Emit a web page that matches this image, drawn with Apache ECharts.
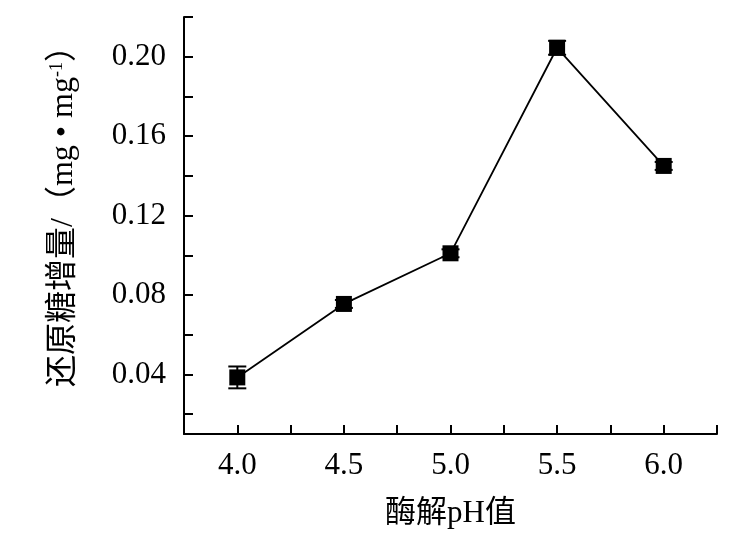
<!DOCTYPE html>
<html><head><meta charset="utf-8">
<script src="https://cdn.jsdelivr.net/npm/echarts@6/dist/echarts.min.js"></script>
<style>html,body{margin:0;padding:0;background:#fff}#c{width:738px;height:558px}</style>
</head><body><div id="c"></div>
<script>
const phValues = [4.0, 4.5, 5.0, 5.5, 6.0];
const sugarIncrease = [0.0385, 0.0755, 0.101, 0.2045, 0.145];
const sugarError = [0.0055, 0.002, 0.002, 0.0035, 0.002];
const xTickValues = [3.75, 4.0, 4.25, 4.5, 4.75, 5.0, 5.25, 5.5, 5.75, 6.0, 6.25];
const xLabelValues = [4.0, 4.5, 5.0, 5.5, 6.0];
const yTickValues = [0.02, 0.04, 0.06, 0.08, 0.10, 0.12, 0.14, 0.16, 0.18, 0.20, 0.22];
const yLabelValues = [0.04, 0.08, 0.12, 0.16, 0.20];

const font = '"Liberation Serif","Noto Sans CJK SC",serif';
const chart = echarts.init(document.getElementById('c'));
const pts = phValues.map((x, i) => [x, sugarIncrease[i]]);
const errData = phValues.map((x, i) => [x, sugarIncrease[i] - sugarError[i], sugarIncrease[i] + sugarError[i]]);

chart.setOption({
  animation: false,
  backgroundColor: '#fff',
  grid: {left: 184, top: 17, right: 21, bottom: 124, containLabel: false},
  xAxis: {
    type: 'value', min: 3.75, max: 6.25,
    name: '酶解pH值', nameLocation: 'middle', nameGap: 64,
    nameTextStyle: {fontFamily: font, fontSize: 31, color: '#000'},
    axisLine: {lineStyle: {color: '#000', width: 2}},
    axisTick: {inside: true, length: 9, lineStyle: {color: '#000', width: 2}, customValues: xTickValues},
    axisLabel: {fontFamily: font, fontSize: 31, color: '#000', margin: 16, customValues: xLabelValues,
      formatter: v => v.toFixed(1)},
    splitLine: {show: false}
  },
  yAxis: {
    type: 'value', min: 0.01, max: 0.22,
    name: '还原糖增量/（mg • mg{sup|-1}）', nameLocation: 'middle', nameGap: 104, nameRotate: 90,
    nameTextStyle: {fontFamily: font, fontSize: 32, color: '#000', padding: [0, 0, 0, 34],
      rich: {sup: {fontFamily: font, fontSize: 18, color: '#000', verticalAlign: 'top', padding: [0,0,14,0]}}},
    axisLine: {show: true, lineStyle: {color: '#000', width: 2}},
    axisTick: {show: true, inside: true, length: 9, lineStyle: {color: '#000', width: 2}, customValues: yTickValues},
    axisLabel: {fontFamily: font, fontSize: 31, color: '#000', margin: 18, customValues: yLabelValues,
      formatter: v => v.toFixed(2)},
    splitLine: {show: false}
  },
  series: [
    {
      type: 'custom', data: errData, z: 3,
      renderItem: function (params, api) {
        const x = api.value(0);
        const lo = api.coord([x, api.value(1)]);
        const hi = api.coord([x, api.value(2)]);
        const hw = 9;
        const style = {stroke: '#000', lineWidth: 2};
        return {type: 'group', children: [
          {type: 'line', shape: {x1: lo[0], y1: lo[1], x2: hi[0], y2: hi[1]}, style: style},
          {type: 'line', shape: {x1: lo[0]-hw, y1: lo[1], x2: lo[0]+hw, y2: lo[1]}, style: style},
          {type: 'line', shape: {x1: hi[0]-hw, y1: hi[1], x2: hi[0]+hw, y2: hi[1]}, style: style}
        ]};
      }
    },
    {
      type: 'line', data: pts, z: 2,
      lineStyle: {color: '#000', width: 1.8},
      symbol: 'rect', symbolSize: 16,
      itemStyle: {color: '#000'}
    }
  ]
});
</script></body></html>
